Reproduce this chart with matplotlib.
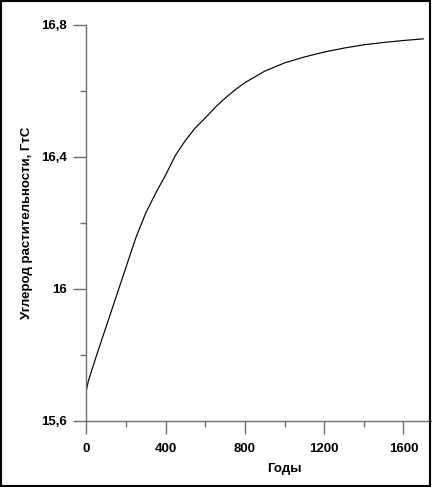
import matplotlib
matplotlib.use("Agg")
import matplotlib.pyplot as plt
from matplotlib.patches import Rectangle
from matplotlib.ticker import MultipleLocator, FixedLocator

plt.rcParams['font.family'] = ['Liberation Sans', 'DejaVu Sans']

years = [0, 10, 50, 100, 150, 200, 250, 300, 350, 400, 450, 500, 550, 600,
         650, 700, 750, 800, 900, 1000, 1100, 1200, 1300, 1400, 1500, 1600,
         1700]
carbon = [15.69, 15.72, 15.795, 15.885, 15.975, 16.065, 16.155, 16.23,
          16.29, 16.345, 16.405, 16.45, 16.488, 16.518, 16.55, 16.578,
          16.603, 16.625, 16.66, 16.685, 16.703, 16.718, 16.73, 16.74,
          16.747, 16.753, 16.758]

xticks = [0, 400, 800, 1200, 1600]
xtick_labels = ["0", "400", "800", "1200", "1600"]
yticks = [15.6, 16.0, 16.4, 16.8]
ytick_labels = ["15,6", "16", "16,4", "16,8"]

W, H = 432, 487
fig = plt.figure(figsize=(W / 100, H / 100), dpi=100)
left_px, right_px, top_px, bottom_px = 86.3, 432, 25, 420.7
ax = fig.add_axes([left_px / W, 1 - bottom_px / H,
                   (right_px - left_px) / W, (bottom_px - top_px) / H])
ax.plot(years, carbon, color='black', linewidth=0.85)
ax.set_xlim(0, 1744)
ax.set_ylim(15.6, 16.8)

gray = '#6e6e6e'
for s in ['top', 'right']:
    ax.spines[s].set_visible(False)
for s in ['left', 'bottom']:
    ax.spines[s].set_color(gray)
    ax.spines[s].set_linewidth(1.0)

ax.xaxis.set_major_locator(FixedLocator(xticks))
ax.set_xticklabels(xtick_labels)
ax.xaxis.set_minor_locator(MultipleLocator(200))
ax.yaxis.set_major_locator(FixedLocator(yticks))
ax.set_yticklabels(ytick_labels)
ax.yaxis.set_minor_locator(MultipleLocator(0.2))

ax.tick_params(which='major', direction='out', length=9.2, width=1.0,
               color=gray, labelsize=9.5)
ax.tick_params(which='minor', direction='out', length=4.6, width=1.0,
               color=gray)
ax.tick_params(axis='x', which='major', pad=7)
ax.tick_params(axis='y', which='major', pad=5)
for lab in ax.get_xticklabels() + ax.get_yticklabels():
    lab.set_fontweight('bold')

ax.set_xlabel("Годы", fontsize=9.5, fontweight='bold')
ax.xaxis.set_label_coords((284 - left_px) / (right_px - left_px),
                          -(463 - bottom_px) / (bottom_px - top_px))
ax.set_ylabel("Углерод растительности, ГтС", fontsize=9.5, fontweight='bold')
ax.yaxis.set_label_coords(-(left_px - 33) / (right_px - left_px), 0.5)

fig.patches.append(Rectangle((0.5 / W, 1 - 485.5 / H), 429.5 / W, 485 / H,
                             transform=fig.transFigure, fill=False,
                             edgecolor='black', linewidth=1.5))

fig.savefig("out.png", dpi=100)
